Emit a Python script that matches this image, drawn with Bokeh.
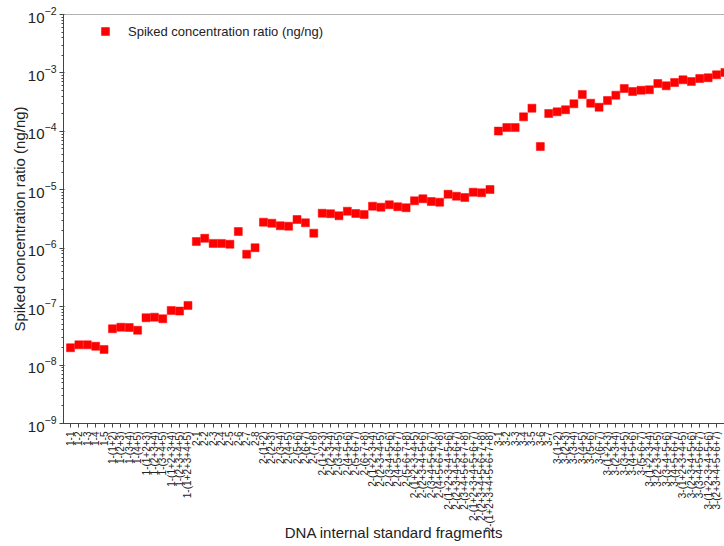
import math
from bokeh.plotting import figure
from bokeh.models import (Range1d, FixedTicker, LogTicker, Span, Legend, LegendItem,
                          ColumnDataSource, LinearAxis)
from bokeh.embed import file_html
from bokeh.resources import INLINE

group1 = ["1-1", "1-2", "1-3", "1-4", "1-5",
          "1-(1+2)", "1-(2+3)", "1-(3+4)", "1-(4+5)",
          "1-(1+2+3)", "1-(2+3+4)", "1-(3+4+5)",
          "1-(1+2+3+4)", "1-(2+3+4+5)",
          "1-(1+2+3+4+5)"]
group2 = ["2-1", "2-2", "2-3", "2-4", "2-5", "2-6", "2-7", "2-8",
          "2-(1+2)", "2-(2+3)", "2-(3+4)", "2-(4+5)", "2-(5+6)", "2-(6+7)", "2-(7+8)",
          "2-(1+2+3)", "2-(2+3+4)", "2-(3+4+5)", "2-(4+5+6)", "2-(5+6+7)", "2-(6+7+8)",
          "2-(1+2+3+4)", "2-(2+3+4+5)", "2-(3+4+5+6)", "2-(4+5+6+7)", "2-(5+6+7+8)",
          "2-(1+2+3+4+5)", "2-(2+3+4+5+6)", "2-(3+4+5+6+7)", "2-(4+5+6+7+8)",
          "2-(1+2+3+4+5+6)", "2-(2+3+4+5+6+7)", "2-(3+4+5+6+7+8)",
          "2-(1+2+3+4+5+6+7)", "2-(2+3+4+5+6+7+8)",
          "2-(1+2+3+4+5+6+7+8)"]
group3 = ["3-1", "3-2", "3-3", "3-4", "3-5", "3-6", "3-7",
          "3-(1+2)", "3-(2+3)", "3-(3+4)", "3-(4+5)", "3-(5+6)", "3-(6+7)",
          "3-(1+2+3)", "3-(2+3+4)", "3-(3+4+5)", "3-(4+5+6)", "3-(5+6+7)",
          "3-(1+2+3+4)", "3-(2+3+4+5)", "3-(3+4+5+6)", "3-(4+5+6+7)",
          "3-(1+2+3+4+5)", "3-(2+3+4+5+6)", "3-(3+4+5+6+7)",
          "3-(1+2+3+4+5+6)", "3-(2+3+4+5+6+7)",
          "3-(1+2+3+4+5+6+7)"]

values1 = [1.98e-8, 2.22e-8, 2.22e-8, 2.10e-8, 1.85e-8, 4.18e-8, 4.45e-8, 4.40e-8,
           3.95e-8, 6.45e-8, 6.60e-8, 6.20e-8, 8.60e-8, 8.40e-8, 1.05e-7]
values2 = [1.30e-6, 1.48e-6, 1.21e-6, 1.21e-6, 1.17e-6, 1.93e-6, 7.9e-7, 1.02e-6,
           2.79e-6, 2.68e-6, 2.42e-6, 2.38e-6, 3.10e-6, 2.72e-6, 1.81e-6,
           3.97e-6, 3.89e-6, 3.59e-6, 4.30e-6, 3.93e-6, 3.78e-6,
           5.24e-6, 5.04e-6, 5.54e-6, 5.12e-6, 4.92e-6,
           6.48e-6, 7.01e-6, 6.30e-6, 6.13e-6,
           8.40e-6, 7.77e-6, 7.38e-6,
           9.10e-6, 8.88e-6,
           1.01e-5]
values3 = [1.01e-4, 1.16e-4, 1.16e-4, 1.77e-4, 2.49e-4, 5.5e-5, 2.02e-4,
           2.16e-4, 2.34e-4, 2.96e-4, 4.28e-4, 3.03e-4, 2.59e-4,
           3.37e-4, 4.16e-4, 5.42e-4, 4.81e-4, 5.06e-4,
           5.14e-4, 6.59e-4, 6.02e-4, 6.86e-4,
           7.63e-4, 7.14e-4, 8.03e-4,
           8.26e-4, 9.29e-4,
           1.02e-3]

series_name = "Spiked concentration ratio (ng/ng)"
categories = group1 + group2 + group3
values = values1 + values2 + values3
xpos = list(range(len(categories)))

FONT = "Liberation Sans"
TXT = "#222222"
AXC = "#444444"

p = figure(width=724, height=546, output_backend="svg", toolbar_location=None,
           y_axis_type="log", x_range=Range1d(-0.834, 77.95),
           y_range=Range1d(1e-9, 1e-2),
           min_border_left=63, min_border_right=0, min_border_top=14, min_border_bottom=123)
p.xaxis.visible = False
p.grid.visible = False
p.outline_line_color = None
p.background_fill_color = "white"

xaxis = LinearAxis(ticker=FixedTicker(ticks=xpos),
                   major_label_overrides={i: c for i, c in zip(xpos, categories)})
p.add_layout(xaxis, "below")

src = ColumnDataSource(dict(x=xpos, y=values))
r = p.scatter("x", "y", source=src, marker="square", size=8,
              fill_color="#ff0000", line_color="#ff0000", line_width=0.5)

p.add_layout(Span(location=1e-2, dimension="width", line_color="#666666", line_width=1))

for ax in (p.yaxis[0], xaxis):
    ax.axis_line_color = AXC
    ax.major_tick_line_color = AXC
    ax.minor_tick_line_color = AXC
    ax.major_label_text_font = FONT
    ax.axis_label_text_font = FONT
    ax.axis_label_text_font_style = "normal"
    ax.major_label_text_color = TXT
    ax.axis_label_text_color = TXT

ya = p.yaxis[0]
ya.ticker = LogTicker(num_minor_ticks=10)
ya.axis_label = "Spiked concentration ratio (ng/ng)"
ya.axis_label_text_font_size = "15px"
ya.major_label_text_font_size = "15px"
ya.major_tick_out = 4
ya.major_tick_in = 1
ya.minor_tick_out = 2
ya.minor_tick_in = 0
ya.major_label_standoff = 3
ya.axis_label_standoff = -3

xaxis.axis_label = "DNA internal standard fragments"
xaxis.axis_label_text_font_size = "15px"
xaxis.major_label_text_font_size = "10px"
xaxis.major_label_orientation = math.pi / 2
xaxis.major_tick_out = 4
xaxis.major_tick_in = 0
xaxis.minor_tick_line_color = None
xaxis.major_label_standoff = 4
xaxis.axis_label_standoff = -11

legend = Legend(items=[LegendItem(label=series_name, renderers=[r])],
                location=(32, 382), padding=0, margin=0, spacing=0,
                glyph_width=20, glyph_height=20, label_standoff=13,
                border_line_color=None, background_fill_alpha=0,
                label_text_font=FONT, label_text_font_size="13px", label_text_color=TXT)
p.add_layout(legend, "center")

open("out.html", "w").write(file_html(p, INLINE))
